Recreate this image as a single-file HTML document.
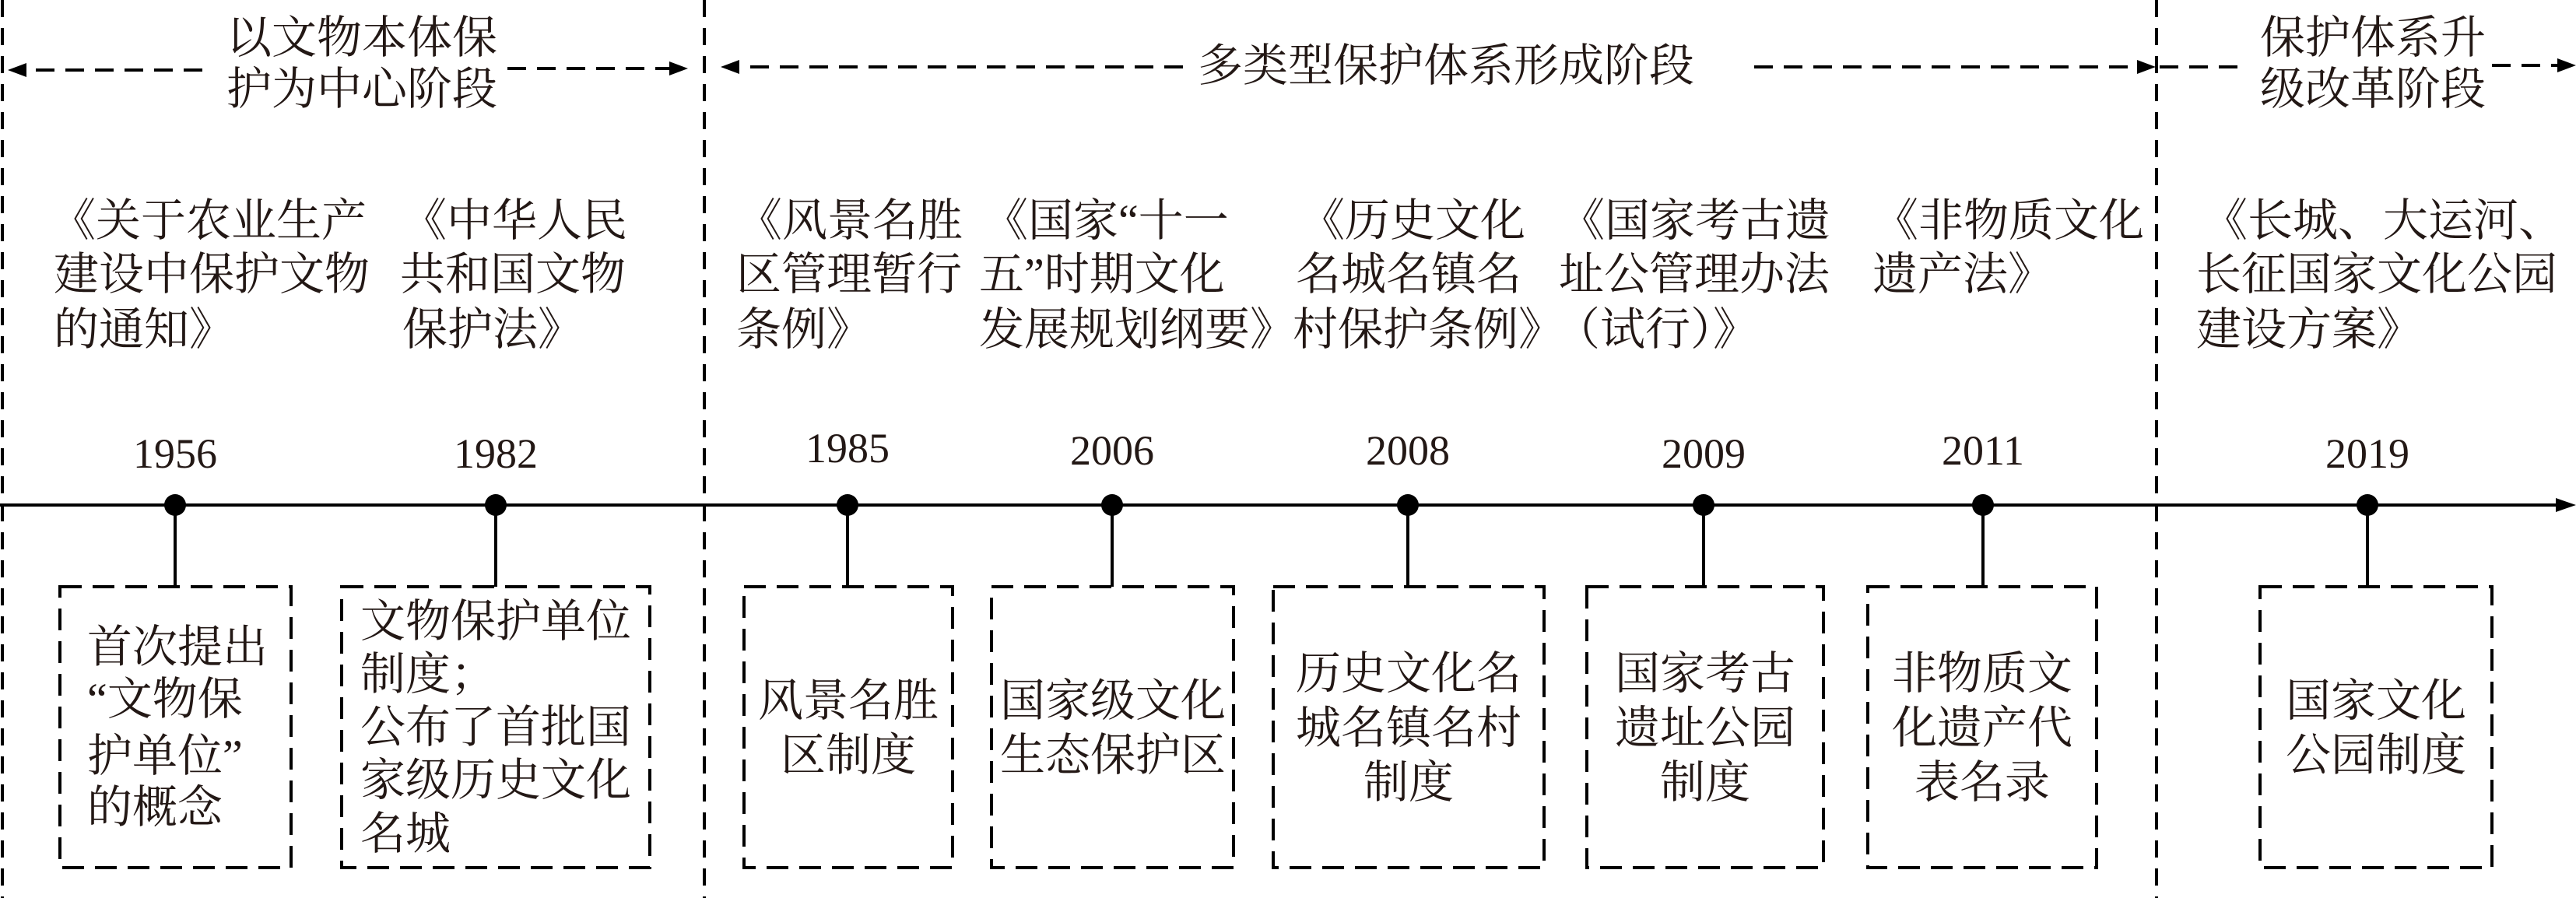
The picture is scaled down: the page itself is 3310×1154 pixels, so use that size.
<!DOCTYPE html>
<html><head><meta charset="utf-8"><style>
html,body{margin:0;padding:0;background:#fff;}
svg{display:block;}
text{font-family:"Liberation Serif","Noto Serif CJK SC","Noto Sans CJK SC",serif;fill:#231815;font-size:58px;}
.y{font-size:54px;}
</style></head><body>
<svg width="3310" height="1154" viewBox="0 0 3310 1154" xmlns="http://www.w3.org/2000/svg">
<g stroke="#000" stroke-width="4" fill="none">
<line x1="3" y1="0" x2="3" y2="1154" stroke-dasharray="22 14"/>
<line x1="905" y1="0" x2="905" y2="1154" stroke-dasharray="22 14"/>
<line x1="2771" y1="0" x2="2771" y2="1154" stroke-dasharray="22 14"/>
<line x1="260" y1="90" x2="30" y2="90" stroke-dasharray="24 14"/>
<line x1="652" y1="88" x2="864" y2="88" stroke-dasharray="24 14"/>
<line x1="1520" y1="86" x2="946" y2="86" stroke-dasharray="24 14"/>
<line x1="2254" y1="86" x2="2750" y2="86" stroke-dasharray="24 14"/>
<line x1="2775" y1="86" x2="2880" y2="86" stroke-dasharray="24 14"/>
<line x1="3202" y1="84" x2="3290" y2="84" stroke-dasharray="24 14"/>
<line x1="0" y1="649" x2="3288" y2="649"/>
<line x1="225" y1="649" x2="225" y2="754"/>
<line x1="637" y1="649" x2="637" y2="754"/>
<line x1="1089" y1="649" x2="1089" y2="754"/>
<line x1="1429" y1="649" x2="1429" y2="754"/>
<line x1="1809" y1="649" x2="1809" y2="754"/>
<line x1="2189" y1="649" x2="2189" y2="754"/>
<line x1="2548" y1="649" x2="2548" y2="754"/>
<line x1="3042" y1="649" x2="3042" y2="754"/>
<g stroke-dasharray="28 14">
<rect x="77" y="754" width="297" height="361"/>
<rect x="439" y="754" width="396" height="361"/>
<rect x="956" y="754" width="268" height="361"/>
<rect x="1274" y="754" width="311" height="361"/>
<rect x="1636" y="754" width="348" height="361"/>
<rect x="2039" y="754" width="304" height="361"/>
<rect x="2400" y="754" width="294" height="361"/>
<rect x="2904" y="754" width="298" height="361"/>
</g>
</g>
<g fill="#000">
<path d="M10,90 L34,81 L34,99z"/>
<path d="M884,88 L860,79 L860,97z"/>
<path d="M926,86 L950,77 L950,95z"/>
<path d="M2770,86 L2746,77 L2746,95z"/>
<path d="M3310,84 L3286,75 L3286,93z"/>
<path d="M3310,649 L3284,640 L3284,658z"/>
<circle cx="225" cy="649" r="14"/><circle cx="637" cy="649" r="14"/>
<circle cx="1089" cy="649" r="14"/><circle cx="1429" cy="649" r="14"/>
<circle cx="1809" cy="649" r="14"/><circle cx="2189" cy="649" r="14"/>
<circle cx="2548" cy="649" r="14"/><circle cx="3042" cy="649" r="14"/>
</g>
<text x="291" y="68">以文物本体保</text>
<text x="291" y="134">护为中心阶段</text>
<text x="1858" y="104" text-anchor="middle">多类型保护体系形成阶段</text>
<text x="2904" y="68">保护体系升</text>
<text x="2904" y="134">级改革阶段</text>
<text x="65" y="303">《关于农业生产</text><text x="69" y="372">建设中保护文物</text><text x="69" y="443">的通知》</text>
<text x="516" y="303">《中华人民</text><text x="514" y="372">共和国文物</text><text x="517" y="443">保护法》</text>
<text x="947" y="303">《风景名胜</text><text x="946" y="372">区管理暂行</text><text x="946" y="443">条例》</text>
<text x="1263" y="303">《国家“十一</text><text x="1258" y="372">五”时期文化</text><text x="1258" y="443">发展规划纲要》</text>
<text x="1670" y="303">《历史文化</text><text x="1665" y="372">名城名镇名</text><text x="1661" y="443">村保护条例》</text>
<text x="2004" y="303">《国家考古遗</text><text x="2003" y="372">址公管理办法</text><text x="1998" y="443">（试行）》</text>
<text x="2407" y="303">《非物质文化</text><text x="2406" y="372">遗产法》</text>
<text x="2830" y="303">《长城、大运河、</text><text x="2822" y="372">长征国家文化公园</text><text x="2822" y="443">建设方案》</text>
<g text-anchor="middle">
<text class="y" x="225" y="601">1956</text>
<text class="y" x="637" y="601">1982</text>
<text class="y" x="1089" y="594">1985</text>
<text class="y" x="1429" y="597">2006</text>
<text class="y" x="1809" y="597">2008</text>
<text class="y" x="2189" y="601">2009</text>
<text class="y" x="2548" y="597">2011</text>
<text class="y" x="3042" y="601">2019</text>
</g>
<text x="112" y="851">首次提出</text><text x="112" y="918">“文物保</text><text x="112" y="991">护单位”</text><text x="112" y="1057">的概念</text>
<text x="463" y="818">文物保护单位</text><text x="463" y="886">制度；</text><text x="463" y="954">公布了首批国</text><text x="463" y="1022">家级历史文化</text><text x="463" y="1091">名城</text>
<g text-anchor="middle">
<text x="1090" y="920">风景名胜</text><text x="1090" y="990">区制度</text>
<text x="1430" y="920">国家级文化</text><text x="1430" y="990">生态保护区</text>
<text x="1810" y="885">历史文化名</text><text x="1810" y="955">城名镇名村</text><text x="1810" y="1025">制度</text>
<text x="2191" y="885">国家考古</text><text x="2191" y="955">遗址公园</text><text x="2191" y="1025">制度</text>
<text x="2547" y="885">非物质文</text><text x="2547" y="955">化遗产代</text><text x="2547" y="1025">表名录</text>
<text x="3053" y="920">国家文化</text><text x="3053" y="990">公园制度</text>
</g>
</svg>
</body></html>
